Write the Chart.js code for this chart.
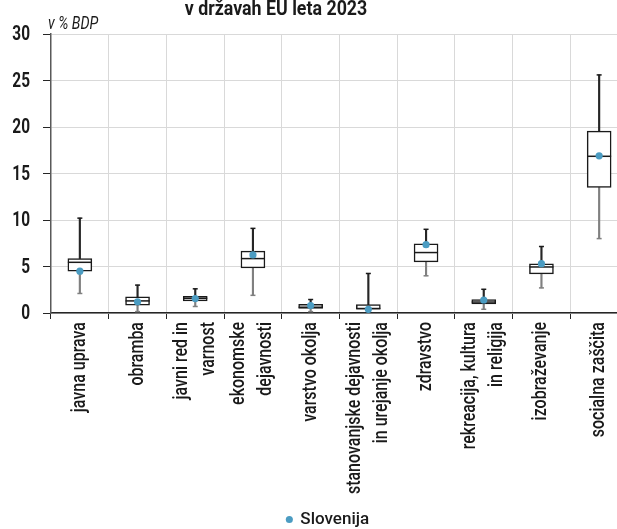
<!DOCTYPE html>
<html>
<head>
<meta charset="utf-8">
<script src="https://cdn.jsdelivr.net/npm/chart.js@4.4.1/dist/chart.umd.min.js"></script>
<style>
    html, body { margin: 0; padding: 0; background: #fff; overflow: hidden; }
    #wrap { position: relative; width: 617px; height: 529px; overflow: hidden; }
    #chart { position: absolute; left: 0; top: 0; }
</style>
</head>
<body>
<div id="wrap"><canvas id="chart" width="660" height="529"></canvas></div>
<script>
// categories (multi-line labels) and box plot statistics, % of GDP
var categories = [
    ['javna uprava'],
    ['obramba'],
    ['javni red in', 'varnost'],
    ['ekonomske', 'dejavnosti'],
    ['varstvo okolja'],
    ['stanovanjske dejavnosti', 'in urejanje okolja'],
    ['zdravstvo'],
    ['rekreacija, kultura', 'in religija'],
    ['izobraževanje'],
    ['socialna zaščita']
];
var mins      = [2.1, 0.15, 0.7, 1.9, 0.15, 0.3, 4.0, 0.4, 2.7, 8.0];
var q1        = [4.5, 0.85, 1.3, 4.85, 0.5, 0.4, 5.5, 0.97, 4.2, 13.5];
var medians   = [5.45, 1.3, 1.58, 5.85, 0.62, 0.48, 6.5, 1.18, 4.95, 16.85];
var q3        = [5.85, 1.75, 1.8, 6.65, 0.93, 0.9, 7.45, 1.43, 5.3, 19.55];
var maxs      = [10.2, 3.0, 2.6, 9.1, 1.45, 4.25, 9.0, 2.55, 7.15, 25.6];
var slovenija = [4.5, 1.2, 1.55, 6.25, 0.8, 0.4, 7.35, 1.4, 5.3, 16.9];
var yTicks    = [0, 5, 10, 15, 20, 25, 30];

var FONT = 'Roboto, "Liberation Sans", sans-serif';
var TEXT = '#1a1a1a';
var DOT = '#4b9cc2';

function pairs(lo, hi) {
    return lo.map(function (v, i) { return [v, hi[i]]; });
}

// the original uses a condensed face, so squeeze the text horizontally
function narrowText(ctx, text, x, y, sx, angle) {
    ctx.save();
    ctx.translate(x, y);
    if (angle) ctx.rotate(angle);
    ctx.scale(sx, 1);
    ctx.fillText(text, 0, 0);
    ctx.restore();
}

// median line and whisker caps, drawn right after the boxes
var boxExtras = {
    id: 'boxExtras',
    afterDatasetDraw: function (chart, args) {
        if (chart.data.datasets[args.index].id !== 'box') return;
        var ctx = chart.ctx,
            y = chart.scales.y;
        ctx.save();
        args.meta.data.forEach(function (bar, i) {
            var half = bar.width / 2;
            ctx.lineWidth = 1.5;
            ctx.strokeStyle = '#1a1a1a';
            var ym = y.getPixelForValue(medians[i]);
            ctx.beginPath();
            ctx.moveTo(bar.x - half, ym);
            ctx.lineTo(bar.x + half, ym);
            ctx.stroke();

            var yt = y.getPixelForValue(maxs[i]);
            ctx.beginPath();
            ctx.moveTo(bar.x - 2.5, yt);
            ctx.lineTo(bar.x + 2.5, yt);
            ctx.stroke();

            ctx.strokeStyle = '#808080';
            var yb = y.getPixelForValue(mins[i]);
            ctx.beginPath();
            ctx.moveTo(bar.x - 2.5, yb);
            ctx.lineTo(bar.x + 2.5, yb);
            ctx.stroke();
        });
        ctx.restore();
    }
};

// tick labels, title and unit label
var labels = {
    id: 'labels',
    afterDraw: function (chart) {
        var ctx = chart.ctx,
            xs = chart.scales.x,
            ys = chart.scales.y,
            area = chart.chartArea;
        ctx.save();
        ctx.fillStyle = TEXT;

        ctx.font = 'bold 20px ' + FONT;
        ctx.textAlign = 'right';
        ctx.textBaseline = 'middle';
        yTicks.forEach(function (v) {
            narrowText(ctx, String(v), area.left - 21, ys.getPixelForValue(v) + 1, 0.77);
        });

        ctx.font = '500 20px ' + FONT;
        categories.forEach(function (lines, i) {
            var px = xs.getPixelForTick(i);
            lines.forEach(function (line, j) {
                var off = (j - (lines.length - 1) / 2) * 27;
                narrowText(ctx, line, px + off, area.bottom + 9, 0.8, -Math.PI / 2);
            });
        });

        ctx.textBaseline = 'alphabetic';
        ctx.textAlign = 'center';
        ctx.font = 'bold 20px ' + FONT;
        narrowText(ctx, 'v državah EU leta 2023', 276, 15, 0.89);
        ctx.textAlign = 'left';
        ctx.font = 'italic 19px ' + FONT;
        narrowText(ctx, 'v % BDP', 48, 29, 0.75);
        ctx.restore();
    }
};

new Chart(document.getElementById('chart'), {
    type: 'bar',
    data: {
        labels: categories,
        datasets: [
            {
                type: 'line',
                label: 'Slovenija',
                data: slovenija,
                showLine: false,
                pointRadius: 3.6,
                pointHoverRadius: 3.6,
                pointBorderWidth: 0,
                backgroundColor: DOT,
                borderColor: DOT,
                pointStyle: 'circle',
                order: 0
            },
            {
                id: 'box',
                label: 'box',
                data: pairs(q1, q3),
                grouped: false,
                barThickness: 24,
                backgroundColor: '#ffffff',
                borderColor: '#1a1a1a',
                borderWidth: 1.5,
                borderSkipped: false,
                order: 1
            },
            {
                label: 'upper',
                data: pairs(q3, maxs),
                grouped: false,
                barThickness: 1.5,
                backgroundColor: '#262626',
                borderWidth: 0,
                order: 2
            },
            {
                label: 'lower',
                data: pairs(mins, q1),
                grouped: false,
                barThickness: 1.5,
                backgroundColor: '#808080',
                borderWidth: 0,
                order: 2
            }
        ]
    },
    options: {
        responsive: false,
        animation: false,
        layout: { padding: { top: 34, left: 28, right: 32, bottom: -9 } },
        plugins: {
            tooltip: { enabled: false },
            title: { display: false },
            legend: {
                position: 'bottom',
                labels: {
                    usePointStyle: true,
                    boxWidth: 5,
                    boxHeight: 5,
                    padding: 6,
                    color: TEXT,
                    font: { family: FONT, size: 17, weight: '500' },
                    filter: function (item) { return item.text === 'Slovenija'; }
                }
            }
        },
        scales: {
            x: {
                offset: true,
                afterFit: function (scale) { scale.height = 192; },
                grid: {
                    offset: true,
                    color: '#d9d9d9',
                    tickColor: '#262626',
                    tickLength: 6,
                    lineWidth: 1
                },
                border: { color: '#262626', width: 1.5 },
                ticks: { display: false, autoSkip: false }
            },
            y: {
                min: 0,
                max: 30,
                afterFit: function (scale) { scale.width = 23; },
                afterBuildTicks: function (scale) {
                    scale.ticks = yTicks.map(function (v) { return { value: v }; });
                },
                grid: {
                    color: '#d9d9d9',
                    tickColor: '#262626',
                    tickLength: 8,
                    lineWidth: 1
                },
                border: { color: '#595959', width: 1.5 },
                ticks: { display: false }
            }
        }
    },
    plugins: [boxExtras, labels]
});
</script>
</body>
</html>
